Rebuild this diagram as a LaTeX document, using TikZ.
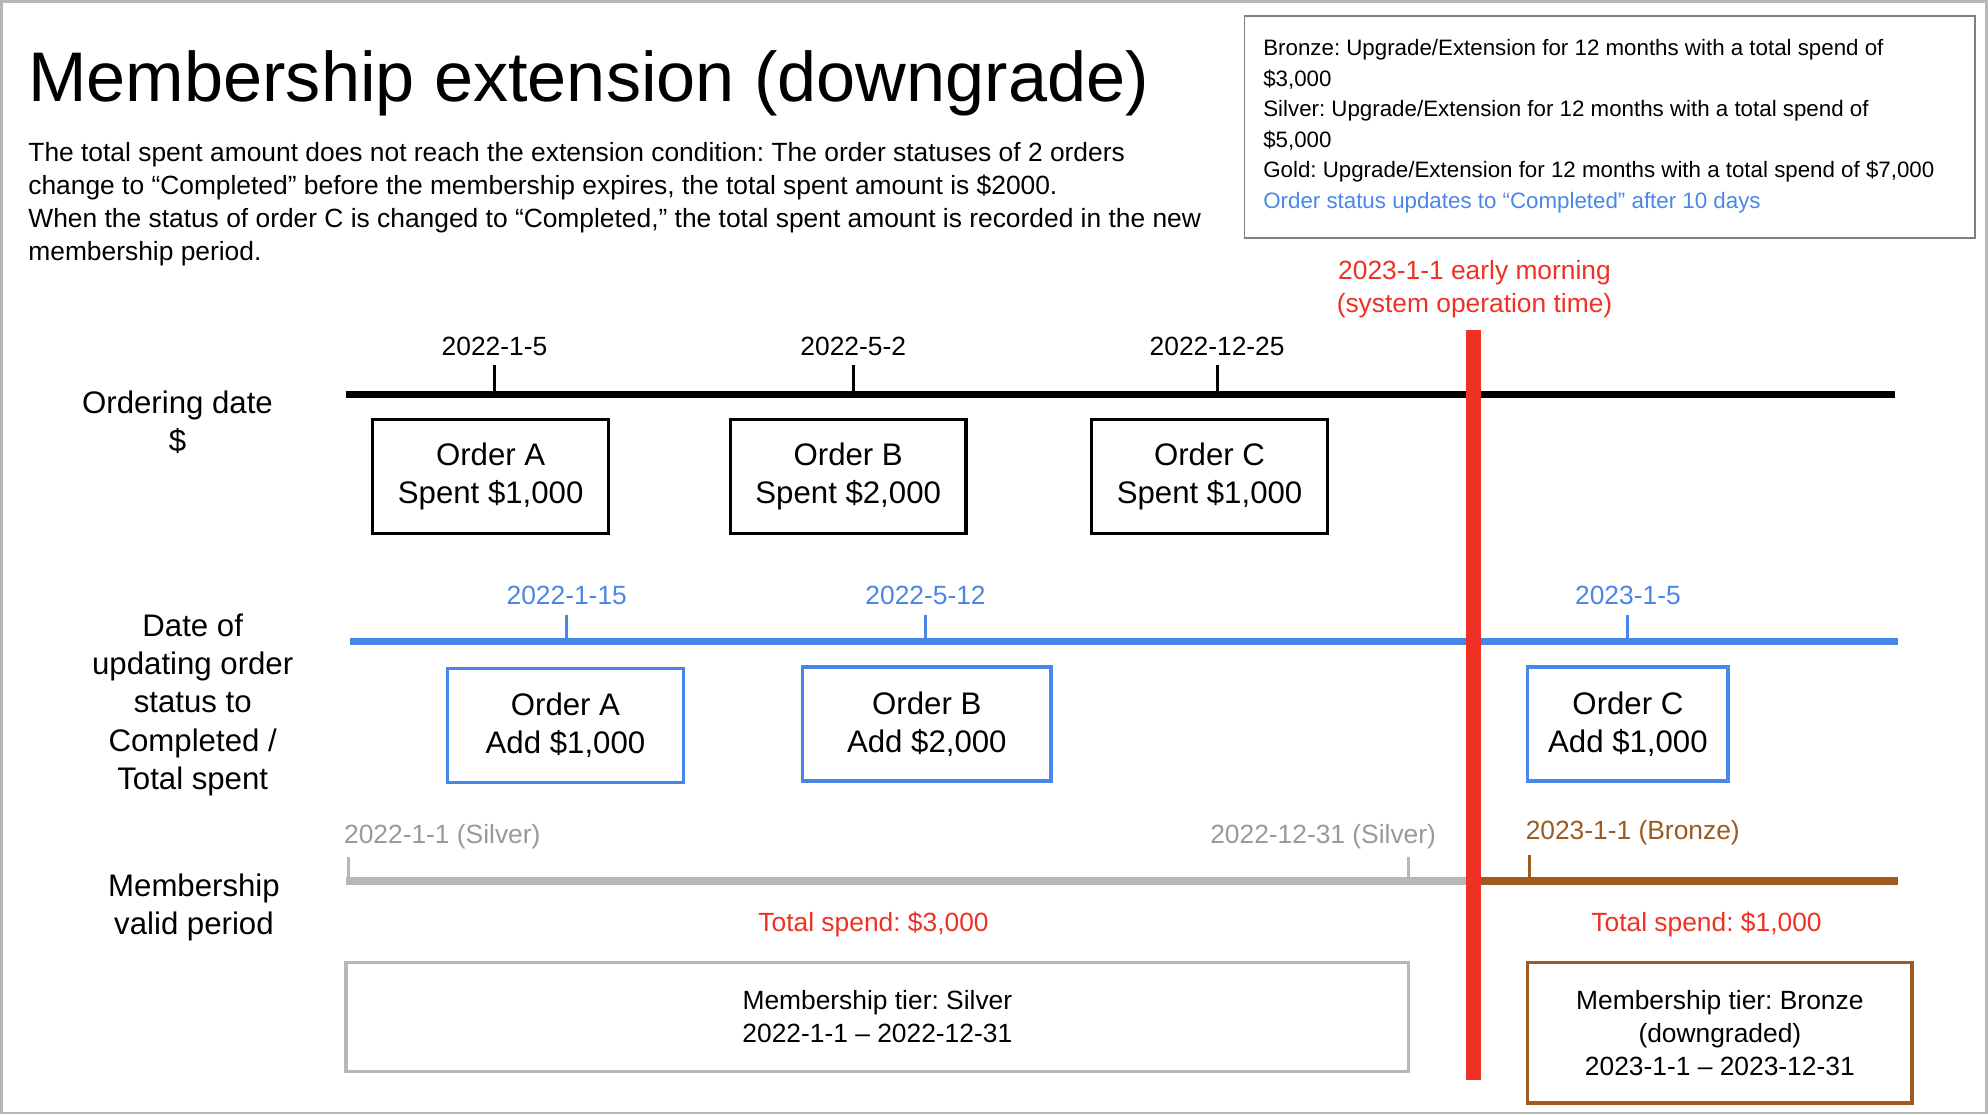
\documentclass[tikz,border=0pt]{standalone}
\usepackage{fontspec}
\setmainfont{Liberation Sans}
\frenchspacing
\definecolor{cblue}{HTML}{4A86E8}
\definecolor{cgray}{HTML}{B7B7B7}
\definecolor{cgtext}{HTML}{999999}
\definecolor{cbrown}{HTML}{9C5A1E}
\definecolor{cred}{HTML}{EE3124}
\begin{document}
\begin{tikzpicture}[x=0.5pt,y=-0.5pt,
  big/.style={font=\fontsize{12.3}{15}\selectfont,align=center},
  mid/.style={font=\fontsize{10.4}{13}\selectfont},
  small/.style={font=\fontsize{8.8}{12}\selectfont},
  obox/.style={draw,line width=1.3pt,minimum width=93pt,minimum height=45pt,big},
  tick/.style={line width=1.2pt}]
\draw[cgray,line width=1pt] (1,1) rectangle (1567,878);
\useasboundingbox (0,0) rectangle (1568,879);
\node[anchor=base west,font=\fontsize{27.7}{32}\selectfont,inner sep=0] (title) at (22,80) {Membership extension (downgrade)};
\node[anchor=north west,mid,align=left,inner sep=0] (para) at (22,112) {The total spent amount does not reach the extension condition: The order statuses of 2 orders\\change to “Completed" before the membership expires, the total spent amount is \$2000.\\When the status of order C is changed to “Completed," the total spent amount is recorded in the new\\membership period.};
\node[draw,line width=0.6pt,draw=gray,anchor=north west,minimum width=288pt,minimum height=87.5pt] (leg) at (981,12) {};
\node[anchor=north west,small,align=left,inner sep=0] (legt) at (996,31) {Bronze: Upgrade/Extension for 12 months with a total spend of\\\$3,000\\Silver: Upgrade/Extension for 12 months with a total spend of\\\$5,000\\Gold: Upgrade/Extension for 12 months with a total spend of \$7,000\\\textcolor{cblue}{Order status updates to “Completed” after 10 days}};
\node[mid,text=cred,align=center] (sys) at (1163,228) {2023-1-1 early morning\\(system operation time)};
% black timeline
\coordinate (b1) at (273,311); \coordinate (b2) at (1495,311);
\draw[line width=3pt] (b1) -- (b2);
\foreach \x/\t/\n in {390/2022-1-5/ta,673/2022-5-2/tb,960/2022-12-25/tc}{
  \draw[tick] (\x,311) -- (\x,288);
  \node[mid] (\n) at (\x,273) {\t};}
\node[big] (ordl) at (140,333) {Ordering date\\\$};
\node[obox] (oa) at (387,376) {Order A\\Spent \$1,000};
\node[obox] (ob) at (669,376) {Order B\\Spent \$2,000};
\node[obox] (oc) at (954,376) {Order C\\Spent \$1,000};
% blue timeline
\coordinate (u1) at (276,506); \coordinate (u2) at (1497,506);
\draw[cblue,line width=3pt] (u1) -- (u2);
\foreach \x/\t/\n in {447/2022-1-15/ua,730/2022-5-12/ub,1284/2023-1-5/uc}{
  \draw[cblue,tick] (\x,506) -- (\x,485);
  \node[mid,text=cblue] (\n) at (\x,470) {\t};}
\node[big] (updl) at (152,556) {Date of\\updating order\\status to\\Completed /\\Total spent};
\node[obox,draw=cblue] (ba) at (446,572) {Order A\\Add \$1,000};
\node[obox,draw=cblue,minimum width=98pt] (bb) at (731,571) {Order B\\Add \$2,000};
\node[obox,draw=cblue,minimum width=79pt] (bc) at (1284,571) {Order C\\Add \$1,000};
% membership
\coordinate (g1) at (273,695); \coordinate (g2) at (1160,695);
\draw[cgray,line width=3pt] (g1) -- (g2);
\draw[cgray,tick] (275,695) -- (275,676);
\draw[cgray,tick] (1111,695) -- (1111,676);
\node[mid,text=cgtext,anchor=west,inner sep=0] (gs) at (271,660) {2022-1-1 (Silver)};
\node[mid,text=cgtext,anchor=east,inner sep=0] (ge) at (1133,660) {2022-12-31 (Silver)};
\coordinate (r1) at (1166,695); \coordinate (r2) at (1497,695);
\draw[cbrown,line width=3pt] (r1) -- (r2);
\draw[cbrown,tick] (1206,695) -- (1206,674);
\node[mid,text=cbrown,anchor=west,inner sep=0] (bs) at (1203,657) {2023-1-1 (Bronze)};
\node[big] (meml) at (153,716) {Membership\\valid period};
\node[mid,text=cred] (ts1) at (689,729) {Total spend: \$3,000};
\node[mid,text=cred] (ts2) at (1346,729) {Total spend: \$1,000};
\node[draw=cgray,line width=1.3pt,mid,align=center,minimum width=419pt,minimum height=43pt] (sb) at (692,802) {Membership tier: Silver\\2022-1-1 – 2022-12-31};
\node[draw=cbrown,line width=1.3pt,mid,align=center,minimum width=151.5pt,minimum height=55.5pt] (brb) at (1356.5,814.5) {Membership tier: Bronze\\(downgraded)\\2023-1-1 – 2023-12-31};
% red bar
\coordinate (rb1) at (1162,260); \coordinate (rb2) at (1162,852);
\draw[cred,line width=6pt] (rb1) -- (rb2);
\end{tikzpicture}
\end{document}
